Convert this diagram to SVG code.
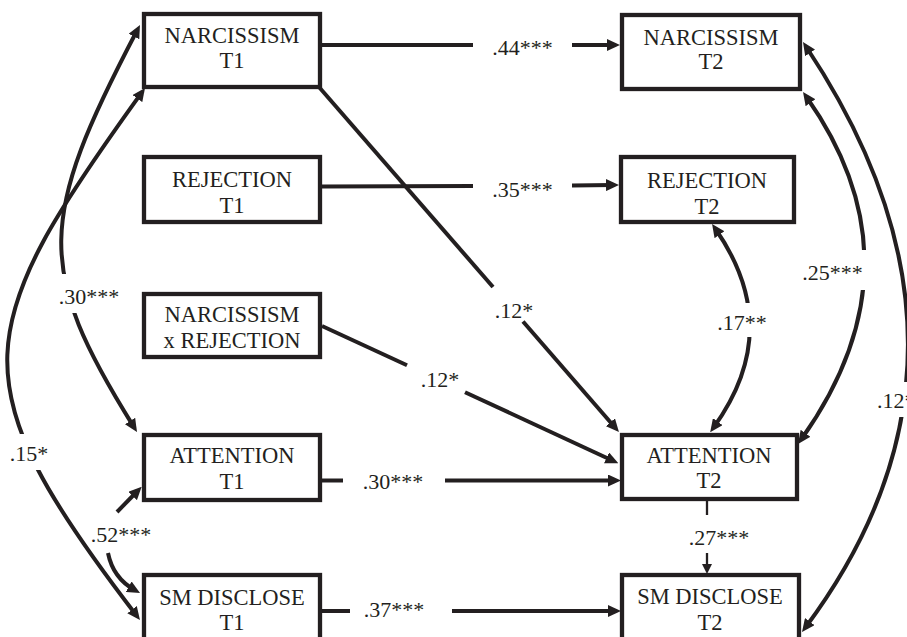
<svg xmlns="http://www.w3.org/2000/svg" width="907" height="637" viewBox="0 0 907 637">
<style>
.box rect{fill:#fff;stroke:#231f20;stroke-width:4.3}
.box text{font-size:22.5px;fill:#231f20;text-anchor:middle}
.c{fill:none;stroke:#231f20;stroke-width:4}
.thin{stroke-width:2.3}
.lbl{font-size:22px;fill:#231f20;text-anchor:middle}
.mask{fill:#fff}
</style>
<defs>
<marker id="ah" markerUnits="userSpaceOnUse" markerWidth="13" markerHeight="12" refX="7" refY="6" orient="auto-start-reverse"><path d="M0,0 L13,6 L0,12 z" fill="#231f20"/></marker>
<marker id="ahs" markerUnits="userSpaceOnUse" markerWidth="10" markerHeight="10" refX="6" refY="5" orient="auto"><path d="M0,0 L10,5 L0,10 z" fill="#231f20"/></marker>
</defs>
<rect width="907" height="637" fill="#fff"/>
<g id="connectors">
<path class="c" d="M322 45 L473 45"/>
<path class="c" d="M572 45 L614 45" marker-end="url(#ah)"/>
<path class="c" d="M322 186.5 L473 186"/>
<path class="c" d="M572 185.5 L613 185" marker-end="url(#ah)"/>
<path class="c" d="M319 87 L493 287"/>
<path class="c" d="M523 321.5 L615 427.5" marker-end="url(#ah)"/>
<path class="c" d="M322 326 L407 365.3"/>
<path class="c" d="M465 392.2 L612.9 460.8" marker-end="url(#ah)"/>
<path class="c" d="M322 480.5 L343 480.5"/>
<path class="c" d="M445 480.5 L615 480.5" marker-end="url(#ah)"/>
<path class="c" d="M322 611 L350 611"/>
<path class="c" d="M452 611 L615 611" marker-end="url(#ah)"/>
<path class="c thin" d="M707 499 L707 515"/>
<path class="c thin" d="M707 553 L707 570" marker-end="url(#ahs)"/>
<path class="c" d="M715.5 229 Q785 329 713.7 427.3" marker-start="url(#ah)" marker-end="url(#ah)"/>
<path class="c" d="M806.5 97 Q925 265 801.5 439" marker-start="url(#ah)" marker-end="url(#ah)"/>
<path class="c" d="M806.3 47 Q1010 353 805.6 627.2" marker-start="url(#ah)" marker-end="url(#ah)"/>
<path class="c" d="M137.2 30.3 C38 219 35 269 133.8 426.9" marker-start="url(#ah)" marker-end="url(#ah)"/>
<path class="c" d="M141.5 92.9 C-29 329 -44 381 136.3 615.2" marker-start="url(#ah)" marker-end="url(#ah)"/>
<path class="c" d="M117 512 L137.5 491" marker-end="url(#ah)"/>
<path class="c" d="M108 553 Q113 578 134.8 590.1" marker-end="url(#ah)"/>
</g>
<g id="labels" font-family="Liberation Serif, Times New Roman, serif">
<rect class="mask" x="716" y="303" width="54" height="34"/>
<rect class="mask" x="800" y="250" width="68" height="40"/>
<rect class="mask" x="870" y="382" width="40" height="35"/>
<rect class="mask" x="54" y="274" width="70" height="39"/>
<rect class="mask" x="4" y="434" width="50" height="36"/>
<text class="lbl" x="522.5" y="55">.44***</text>
<text class="lbl" x="522.5" y="197">.35***</text>
<text class="lbl" x="514" y="318">.12*</text>
<text class="lbl" x="440" y="387">.12*</text>
<text class="lbl" x="393" y="489">.30***</text>
<text class="lbl" x="394" y="617">.37***</text>
<text class="lbl" x="719" y="545">.27***</text>
<text class="lbl" x="742" y="330">.17**</text>
<text class="lbl" x="832.5" y="280">.25***</text>
<text class="lbl" x="877" y="408" style="text-anchor:start">.12*</text>
<text class="lbl" x="89" y="304">.30***</text>
<text class="lbl" x="29" y="460.5">.15*</text>
<text class="lbl" x="121" y="541.5">.52***</text>
</g>
<g id="nodes" font-family="Liberation Serif, Times New Roman, serif">
<g id="narcissism-t1" class="box"><rect x="144" y="14" width="176" height="73"/><text x="232" y="43">NARCISSISM</text><text x="232" y="68">T1</text></g>
<g id="rejection-t1" class="box"><rect x="144" y="157" width="176" height="65"/><text x="232" y="187">REJECTION</text><text x="232" y="213">T1</text></g>
<g id="narc-x-rej" class="box"><rect x="144" y="294" width="176" height="63"/><text x="232" y="321.5">NARCISSISM</text><text x="232" y="347.5">x REJECTION</text></g>
<g id="attention-t1" class="box"><rect x="144" y="435" width="176" height="65"/><text x="232" y="463">ATTENTION</text><text x="232" y="489">T1</text></g>
<g id="smdisclose-t1" class="box"><rect x="144" y="575" width="176" height="70"/><text x="232" y="605">SM DISCLOSE</text><text x="232" y="630">T1</text></g>
<g id="narcissism-t2" class="box"><rect x="622" y="15" width="178" height="74"/><text x="711" y="45">NARCISSISM</text><text x="711" y="69">T2</text></g>
<g id="rejection-t2" class="box"><rect x="621" y="157" width="173" height="65"/><text x="707" y="188">REJECTION</text><text x="707" y="214">T2</text></g>
<g id="attention-t2" class="box"><rect x="622" y="435" width="175" height="64"/><text x="709" y="463">ATTENTION</text><text x="709" y="488">T2</text></g>
<g id="smdisclose-t2" class="box"><rect x="622" y="575" width="177" height="70"/><text x="710" y="604">SM DISCLOSE</text><text x="710" y="630">T2</text></g>
</g>
</svg>
